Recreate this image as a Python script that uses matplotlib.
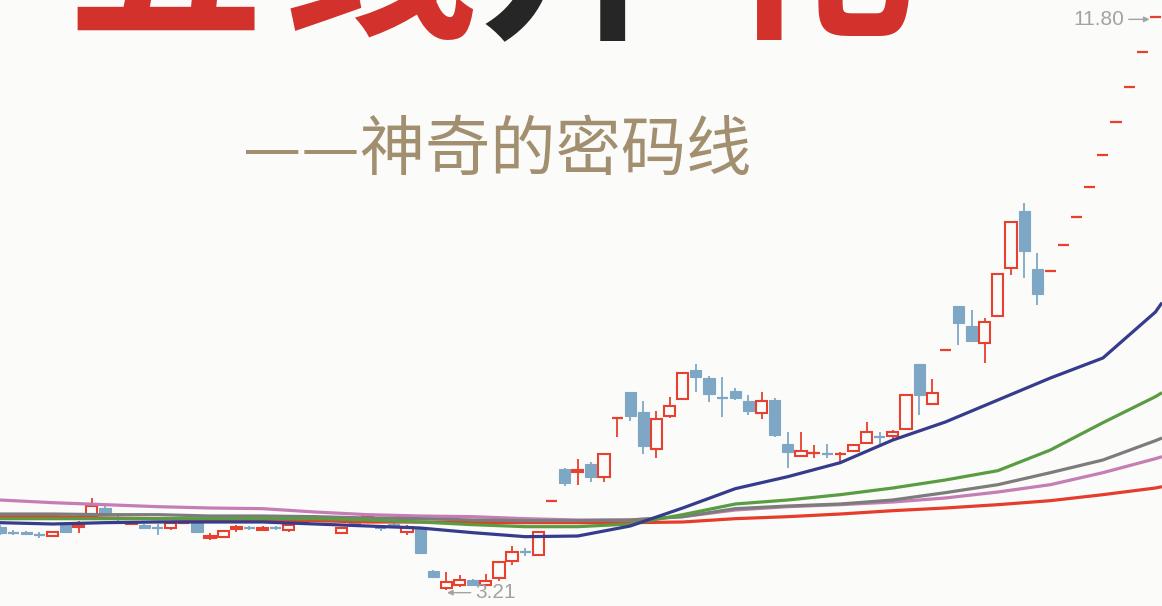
import numpy as np
import matplotlib
matplotlib.use('Agg')
import matplotlib.pyplot as plt
from matplotlib.patches import Rectangle

plt.rcParams['font.family'] = ['Noto Sans CJK SC', 'DejaVu Sans']

# ---------------- data ----------------
opens = [4.16, 4.08, 4.08, 4.05, 4.02, 4.19, 4.16, 4.31, 4.44, 4.31,
         4.20, 4.19, 4.15, 4.14, 4.20, 4.22, 3.99, 4.01, 4.13, 4.15,
         4.11, 4.15, 4.11, 4.23, 4.25, 4.32, 4.07, 4.23, 4.26, 4.15,
         4.20, 4.08, 4.14, 3.50, 3.24, 3.29, 3.36, 3.29, 3.39, 3.65,
         3.79, 3.74, 4.55, 5.03, 4.98, 5.10, 4.91, 5.78, 6.18, 5.88,
         5.33, 5.82, 6.08, 6.51, 6.39, 6.10, 6.20, 6.05, 5.87, 6.06,
         5.40, 5.22, 5.26, 5.26, 5.24, 5.30, 5.42, 5.52, 5.52, 5.63,
         6.60, 6.00, 6.81, 7.47, 7.17, 6.92, 7.32, 8.04, 8.90, 8.03,
         8.00, 8.39, 8.81, 9.26, 9.74, 10.23, 10.76, 11.28, 11.80]
highs = [4.19, 4.11, 4.10, 4.08, 4.08, 4.20, 4.25, 4.59, 4.47, 4.34,
         4.25, 4.20, 4.20, 4.23, 4.23, 4.23, 4.07, 4.11, 4.19, 4.17,
         4.17, 4.17, 4.19, 4.28, 4.34, 4.32, 4.16, 4.25, 4.34, 4.19,
         4.22, 4.19, 4.16, 3.51, 3.48, 3.44, 3.38, 3.45, 3.63, 3.87,
         3.84, 4.08, 4.55, 5.04, 5.18, 5.13, 5.25, 5.79, 6.18, 6.05,
         5.90, 6.11, 6.47, 6.60, 6.42, 6.41, 6.24, 6.14, 6.18, 6.09,
         5.58, 5.58, 5.39, 5.40, 5.28, 5.39, 5.73, 5.58, 5.61, 6.14,
         6.60, 6.38, 6.81, 7.47, 7.41, 7.29, 7.95, 8.73, 9.02, 8.27,
         8.00, 8.39, 8.81, 9.26, 9.74, 10.23, 10.76, 11.28, 11.80]
lows = [4.04, 4.04, 4.04, 3.99, 4.02, 4.07, 4.07, 4.31, 4.32, 4.25,
        4.19, 4.13, 4.04, 4.11, 4.20, 4.07, 3.96, 3.99, 4.08, 4.11,
        4.10, 4.11, 4.08, 4.22, 4.25, 4.26, 4.07, 4.19, 4.26, 4.10,
        4.14, 4.04, 3.77, 3.39, 3.21, 3.26, 3.27, 3.27, 3.35, 3.59,
        3.72, 3.74, 4.55, 4.77, 4.79, 4.83, 4.83, 5.51, 5.75, 5.25,
        5.19, 5.79, 6.08, 6.18, 6.03, 5.81, 6.06, 5.84, 5.78, 5.51,
        5.04, 5.22, 5.19, 5.19, 5.12, 5.30, 5.42, 5.39, 5.46, 5.63,
        5.84, 6.00, 6.81, 6.89, 6.93, 6.62, 7.32, 7.94, 7.89, 7.49,
        8.00, 8.39, 8.81, 9.26, 9.74, 10.23, 10.76, 11.28, 11.80]
closes = [4.07, 4.06, 4.05, 4.03, 4.08, 4.08, 4.19, 4.47, 4.34, 4.28,
          4.23, 4.14, 4.13, 4.22, 4.22, 4.08, 4.02, 4.10, 4.16, 4.13,
          4.14, 4.13, 4.19, 4.26, 4.29, 4.28, 4.14, 4.20, 4.31, 4.13,
          4.16, 4.16, 3.77, 3.41, 3.33, 3.36, 3.29, 3.35, 3.63, 3.78,
          3.77, 4.08, 4.55, 4.82, 5.01, 4.91, 5.25, 5.79, 5.82, 5.37,
          5.78, 5.97, 6.47, 6.41, 6.15, 6.08, 6.09, 5.90, 6.05, 5.54,
          5.28, 5.30, 5.28, 5.24, 5.25, 5.39, 5.58, 5.50, 5.58, 6.14,
          6.14, 6.17, 6.81, 7.22, 6.95, 7.23, 7.95, 8.73, 8.30, 7.65,
          8.00, 8.39, 8.81, 9.26, 9.74, 10.23, 10.76, 11.28, 11.80]

ma_idx = [0, 4, 8, 12, 16, 20, 24, 28, 32, 36, 40, 44, 48, 52, 56, 60,
          64, 68, 72, 76, 80, 84, 88, 88.5]
ma_navy = [4.22, 4.20, 4.22, 4.23, 4.23, 4.23, 4.20, 4.17, 4.14, 4.07, 4.01, 4.02,
           4.17, 4.44, 4.73, 4.91, 5.12, 5.46, 5.73, 6.06, 6.39, 6.69, 7.38, 7.52]
ma_green = [4.28, 4.28, 4.28, 4.28, 4.28, 4.28, 4.28, 4.26, 4.23, 4.19, 4.16, 4.16,
            4.20, 4.34, 4.50, 4.56, 4.64, 4.74, 4.86, 5.00, 5.31, 5.72, 6.11, 6.17]
ma_gray = [4.35, 4.35, 4.34, 4.34, 4.32, 4.32, 4.31, 4.29, 4.28, 4.26, 4.25, 4.25,
           4.26, 4.31, 4.43, 4.47, 4.50, 4.56, 4.67, 4.79, 4.97, 5.16, 5.45, 5.49]
ma_pink = [4.56, 4.52, 4.49, 4.46, 4.44, 4.43, 4.38, 4.34, 4.32, 4.31, 4.28, 4.26,
           4.26, 4.31, 4.41, 4.46, 4.49, 4.53, 4.59, 4.68, 4.79, 4.97, 5.18, 5.21]
ma_red = [4.31, 4.31, 4.29, 4.28, 4.26, 4.26, 4.25, 4.23, 4.23, 4.22, 4.22, 4.22,
          4.22, 4.23, 4.28, 4.31, 4.35, 4.40, 4.44, 4.49, 4.55, 4.64, 4.74, 4.76]

title_chars = ['五', '线', '开', '花']
subtitle = '——神奇的密码线'
low_label = '3.21'
high_label = '11.80'

# ---------------- style ----------------
BG = '#fbfbf9'
UP = '#e8402e'
DOWN = '#7ea7c6'

fig = plt.figure(figsize=(11.62, 6.06), dpi=100, facecolor=BG)
ax = fig.add_axes([0, 0, 1, 1])
ax.set_facecolor(BG)
ax.set_xlim(0, 88.5)
ax.set_ylim(2.97, 12.06)
ax.axis('off')

w = 0.85
for i, (o, h, l, c) in enumerate(zip(opens, highs, lows, closes)):
    col = UP if c >= o else DOWN
    ax.plot([i, i], [l, h], color=col, lw=1.3, zorder=2, solid_capstyle='butt')
    if abs(c - o) < 0.025:
        ax.plot([i - w / 2, i + w / 2], [(o + c) / 2] * 2, color=col, lw=1.6,
                zorder=3, solid_capstyle='butt')
    else:
        if c >= o:
            r = Rectangle((i - w / 2, o), w, c - o, facecolor=BG, edgecolor=UP,
                          lw=1.5, zorder=3)
        else:
            r = Rectangle((i - w / 2, c), w, o - c, facecolor=DOWN, edgecolor=DOWN,
                          lw=0.8, zorder=3)
        ax.add_patch(r)

for vals, col in [(ma_red, '#e63c2c'), (ma_pink, '#c47db5'), (ma_gray, '#7c7c7c'),
                  (ma_green, '#5a9c42'), (ma_navy, '#363b8c')]:
    ax.plot(ma_idx, vals, color=col, lw=2.3, zorder=4, solid_capstyle='butt')

# low / high labels
imin = int(np.argmin(lows))
imax = int(np.argmax(highs))
ax.annotate(low_label, xy=(imin + 0.05, lows[imin] - 0.04), xytext=(20, 0),
            textcoords='offset points', ha='left', va='center', fontsize=15,
            color='#a3a3a3', family=['Liberation Sans', 'DejaVu Sans'], zorder=6,
            arrowprops=dict(arrowstyle='-|>', color='#a3a3a3', lw=1.0,
                            shrinkA=1, shrinkB=0, mutation_scale=8))
ax.annotate(high_label, xy=(imax - 0.45, highs[imax] - 0.03), xytext=(-18, 0),
            textcoords='offset points', ha='right', va='center', fontsize=15,
            color='#a3a3a3', family=['Liberation Sans', 'DejaVu Sans'], zorder=6,
            arrowprops=dict(arrowstyle='-|>', color='#a3a3a3', lw=1.0,
                            shrinkA=1, shrinkB=0, mutation_scale=8))

# title (cropped at top edge, as on the cover)
title_x = [165, 380, 575, 815]
title_col = ['#d3312c', '#d3312c', '#262626', '#d3312c']
for ch, x, col in zip(title_chars, title_x, title_col):
    fig.text(x / 1162, 1 - 22 / 606, ch, ha='center', va='baseline', fontsize=142,
             fontweight='black', color=col, zorder=10)

fig.text(243 / 1162, 1 - 152 / 606, subtitle, ha='left', va='center', fontsize=47,
         color='#a28f70', zorder=10)

fig.savefig('out.png', dpi=100, facecolor=BG)
